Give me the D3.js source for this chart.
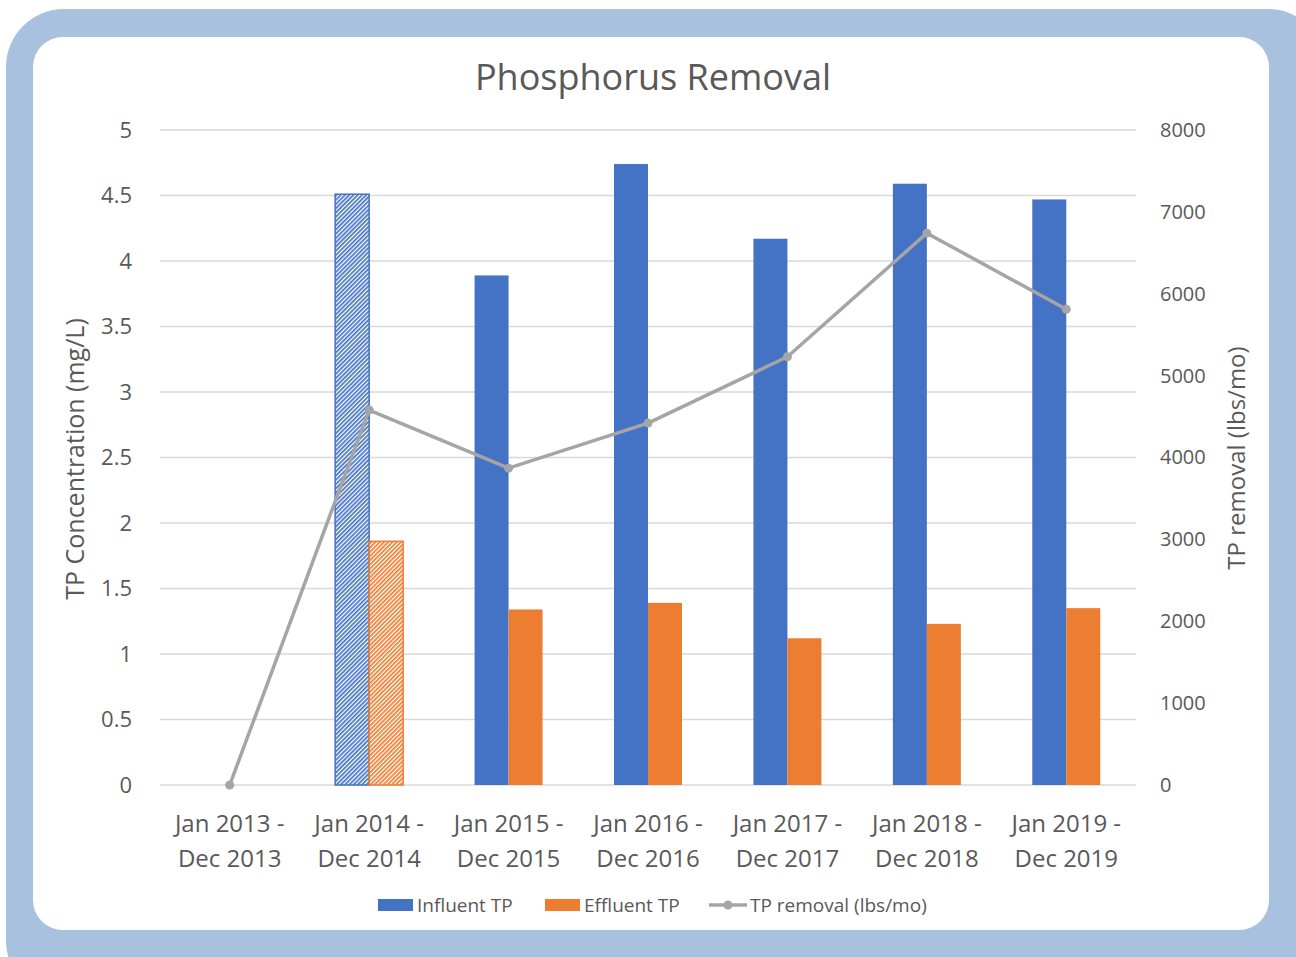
<!DOCTYPE html>
<html>
<head>
<meta charset="utf-8">
<script src="https://cdn.jsdelivr.net/npm/d3@7"></script>
<style>
  body { margin: 0; background: #fff; }
  text { font-family: "Open Sans", "Noto Sans", sans-serif; fill: #595959; }
</style>
</head>
<body>
<script>
// Data
var periods   = ["Jan 2013 - Dec 2013", "Jan 2014 - Dec 2014", "Jan 2015 - Dec 2015",
                 "Jan 2016 - Dec 2016", "Jan 2017 - Dec 2017", "Jan 2018 - Dec 2018",
                 "Jan 2019 - Dec 2019"];
var influent  = [0, 4.51, 3.89, 4.74, 4.17, 4.59, 4.47];
var effluent  = [0, 1.86, 1.34, 1.39, 1.12, 1.23, 1.35];
var removal   = [0, 4580, 3870, 4420, 5230, 6740, 5810];
var hatched   = [false, true, false, false, false, false, false];
var leftTicks  = [0, 0.5, 1, 1.5, 2, 2.5, 3, 3.5, 4, 4.5, 5];
var rightTicks = [0, 1000, 2000, 3000, 4000, 5000, 6000, 7000, 8000];

var W = 1296, H = 957;
var blue = "#4472c4", orange = "#ed7d31", grey = "#a5a5a5";

var svg = d3.select("body").append("svg")
    .attr("width", W).attr("height", H);

// Rounded frame
svg.append("rect").attr("x", 6).attr("y", 9).attr("width", 1320).attr("height", 990)
    .attr("rx", 58).attr("fill", "#a7c1df");
svg.append("rect").attr("x", 33).attr("y", 37).attr("width", 1236).attr("height", 893)
    .attr("rx", 30).attr("fill", "#fff");

// Hatch patterns (fine diagonal)
var defs = svg.append("defs");
function hatch(id, color) {
    var p = defs.append("pattern").attr("id", id)
        .attr("patternUnits", "userSpaceOnUse").attr("width", 3).attr("height", 3)
        .attr("patternTransform", "rotate(45)");
    p.append("rect").attr("width", 3).attr("height", 3).attr("fill", "#fff");
    p.append("rect").attr("width", 1.7).attr("height", 3).attr("fill", color);
}
hatch("hatchBlue", blue);
hatch("hatchOrange", orange);

var plotLeft = 160, plotRight = 1136, plotTop = 130, plotBottom = 785;

var x = d3.scaleBand().domain(periods).range([plotLeft, plotRight]);
var xs = d3.scaleBand().domain(["in", "out"]).range([0, 68]);
var yL = d3.scaleLinear().domain([0, 5]).range([plotBottom, plotTop]);
var yR = d3.scaleLinear().domain([0, 8000]).range([plotBottom, plotTop]);

// Gridlines
svg.append("g").selectAll("line").data(leftTicks).join("line")
    .attr("x1", plotLeft).attr("x2", plotRight)
    .attr("y1", d => yL(d)).attr("y2", d => yL(d))
    .attr("stroke", "#d9d9d9").attr("stroke-width", 1.3);

// Left axis
var gL = svg.append("g").attr("transform", "translate(" + plotLeft + ",0)")
    .call(d3.axisLeft(yL).tickValues(leftTicks).tickSize(0).tickPadding(28)
        .tickFormat(d => String(d)));
gL.select(".domain").remove();
gL.selectAll("text").style("font-size", "22px").attr("fill", "#595959");

// Right axis
var gR = svg.append("g").attr("transform", "translate(" + plotRight + ",0)")
    .call(d3.axisRight(yR).tickValues(rightTicks).tickSize(0).tickPadding(24)
        .tickFormat(d3.format("d")));
gR.select(".domain").remove();
gR.selectAll("text").style("font-size", "20px").attr("fill", "#595959");

// Bars
var groups = svg.append("g").selectAll("g").data(periods).join("g")
    .attr("transform", d => "translate(" + (x(d) + x.bandwidth() / 2 - 34) + ",0)");

groups.append("rect")
    .attr("x", xs("in")).attr("width", xs.bandwidth())
    .attr("y", (d, i) => yL(influent[i]))
    .attr("height", (d, i) => yL(0) - yL(influent[i]))
    .attr("fill", (d, i) => hatched[i] ? "url(#hatchBlue)" : blue)
    .attr("stroke", (d, i) => hatched[i] ? blue : "none")
    .attr("stroke-width", 1.5);

groups.append("rect")
    .attr("x", xs("out")).attr("width", xs.bandwidth())
    .attr("y", (d, i) => yL(effluent[i]))
    .attr("height", (d, i) => yL(0) - yL(effluent[i]))
    .attr("fill", (d, i) => hatched[i] ? "url(#hatchOrange)" : orange)
    .attr("stroke", (d, i) => hatched[i] ? orange : "none")
    .attr("stroke-width", 1.5);

// Removal line
var cx = d => x(d) + x.bandwidth() / 2;
var line = d3.line().x((d, i) => cx(periods[i])).y(d => yR(d));
svg.append("path").datum(removal).attr("d", line)
    .attr("fill", "none").attr("stroke", grey).attr("stroke-width", 3.5)
    .attr("stroke-linejoin", "round");
svg.append("g").selectAll("circle").data(removal).join("circle")
    .attr("cx", (d, i) => cx(periods[i])).attr("cy", d => yR(d))
    .attr("r", 4.5).attr("fill", grey);

// Category labels (two lines)
var cat = svg.append("g").selectAll("text").data(periods).join("text")
    .attr("x", d => cx(d)).attr("text-anchor", "middle")
    .style("font-size", "24px");
cat.append("tspan").attr("x", d => cx(d)).attr("y", 832).text(d => d.split(" - ")[0] + " -");
cat.append("tspan").attr("x", d => cx(d)).attr("y", 867).text(d => d.split(" - ")[1]);

// Title
svg.append("text").attr("x", 653).attr("y", 90).attr("text-anchor", "middle")
    .style("font-size", "36px").text("Phosphorus Removal");

// Axis titles
svg.append("text").attr("transform", "translate(84,459) rotate(-90)")
    .attr("text-anchor", "middle").style("font-size", "25px")
    .text("TP Concentration (mg/L)");
svg.append("text").attr("transform", "translate(1245,458) rotate(-90)")
    .attr("text-anchor", "middle").style("font-size", "24px")
    .text("TP removal (lbs/mo)");

// Legend
var lg = svg.append("g").style("font-size", "19px");
lg.append("rect").attr("x", 378).attr("y", 899).attr("width", 35).attr("height", 12).attr("fill", blue);
lg.append("text").attr("x", 417).attr("y", 912).text("Influent TP");
lg.append("rect").attr("x", 545).attr("y", 899).attr("width", 35).attr("height", 12).attr("fill", orange);
lg.append("text").attr("x", 584).attr("y", 912).text("Effluent TP");
lg.append("line").attr("x1", 709).attr("x2", 747).attr("y1", 905).attr("y2", 905)
    .attr("stroke", grey).attr("stroke-width", 3.5);
lg.append("circle").attr("cx", 728).attr("cy", 905).attr("r", 4.5).attr("fill", grey);
lg.append("text").attr("x", 750).attr("y", 912).text("TP removal (lbs/mo)");
</script>
</body>
</html>
